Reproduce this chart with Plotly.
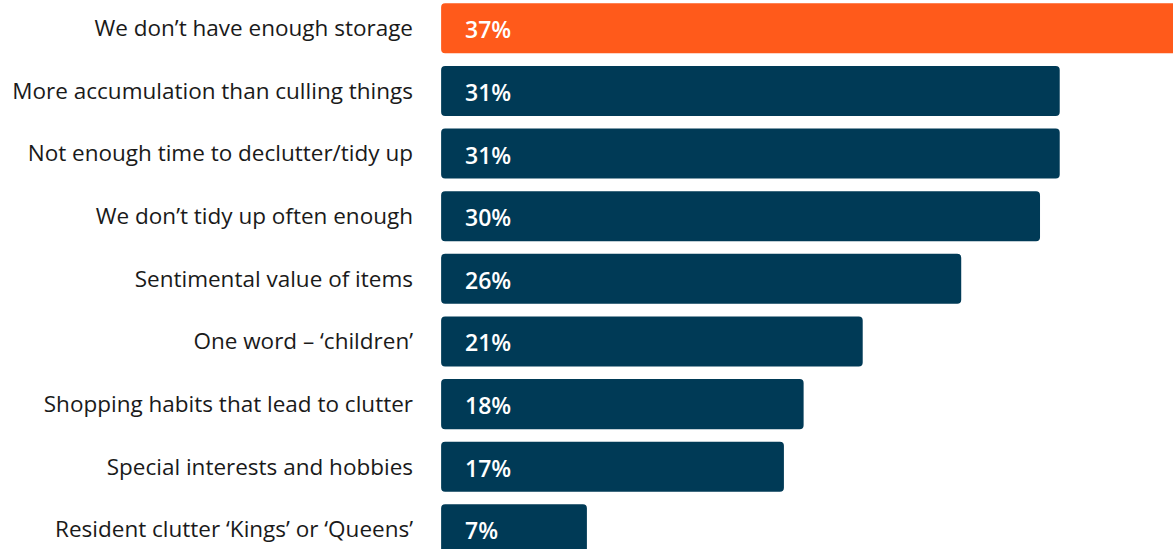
import plotly.graph_objects as go

categories = [
    "We don’t have enough storage",
    "More accumulation than culling things",
    "Not enough time to declutter/tidy up",
    "We don’t tidy up often enough",
    "Sentimental value of items",
    "One word – ‘children’",
    "Shopping habits that lead to clutter",
    "Special interests and hobbies",
    "Resident clutter ‘Kings’ or ‘Queens’",
]
values = [37, 31, 31, 30, 26, 21, 18, 17, 7]
bar_colors = ["#FF5A1B"] + ["#003A56"] * 8
value_labels = [f"{v}%" for v in values]

positions = list(range(len(categories)))
base_offset = -0.4

fig = go.Figure()
fig.add_trace(go.Bar(
    x=[v - base_offset for v in values],
    y=positions,
    base=base_offset,
    orientation="h",
    marker=dict(color=bar_colors, line=dict(width=0), cornerradius=4),
    hoverinfo="skip",
    width=0.8,
))

for p, lab in zip(positions, value_labels):
    fig.add_annotation(
        x=0, y=p, xref="x", yref="y", text=lab,
        showarrow=False, xanchor="left", yanchor="middle", xshift=14, yshift=-1,
        font=dict(family="Open Sans, sans-serif", size=23, color="white", weight=600),
    )

fig.update_layout(
    width=1173, height=549,
    margin=dict(l=441, r=0, t=0, b=0),
    paper_bgcolor="white", plot_bgcolor="white",
    showlegend=False,
    bargap=0.2,
    xaxis=dict(range=[-0.406, 36.75], visible=False, fixedrange=True),
    yaxis=dict(
        range=[8.314, -0.452],
        tickvals=positions, ticktext=categories,
        showgrid=False, zeroline=False, showline=False, ticks="",
        ticklabelstandoff=27,
        tickfont=dict(family="Open Sans, sans-serif", size=22.5, color="#1a1a1a"),
        fixedrange=True,
    ),
)

fig.write_html(
    "out.html",
    config={"displayModeBar": False, "staticPlot": True},
    post_script="document.body.style.margin='0';",
)
